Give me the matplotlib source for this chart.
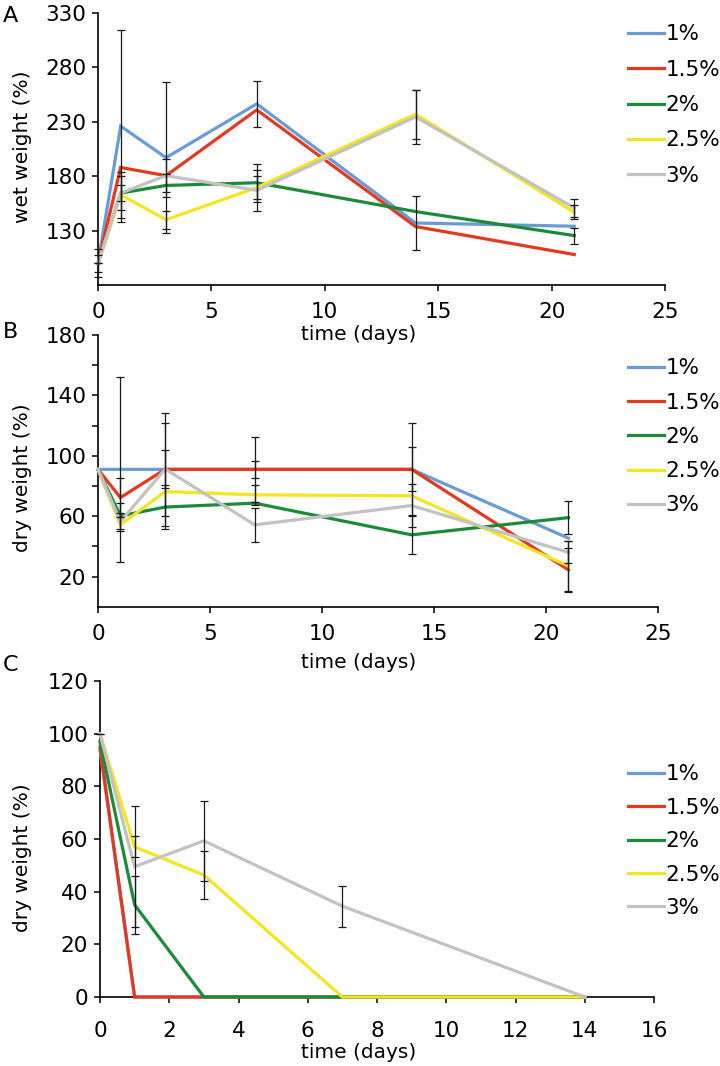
import numpy as np
import matplotlib
matplotlib.use("Agg")
import matplotlib.pyplot as plt
from matplotlib.ticker import FixedLocator

plt.rcParams['font.family'] = ['DejaVu Sans']

series = ["1%", "1.5%", "2%", "2.5%", "3%"]
colors = ["#6A9BD2", "#E2391F", "#1C8B38", "#F3E620", "#C2C2C2"]
nan = np.nan

# Panel A: wet weight (%)
days_a = [0, 1, 3, 7, 14, 21]
wet_1 = [100, 226, 197, 246.5, 137, 134]
wet_15 = [100, 188, 180.5, 241, 133.7, 108]
wet_2 = [100, 164.5, 171.5, 174, 147.5, 125.4]
wet_25 = [100, 163, 140, 169.5, 237, 146.8]
wet_3 = [100, 164.5, 180.5, 167, 234.5, 150.8]
wet_err_1 = [13, 88.5, 69.5, 21, 24.5, nan]
wet_err_15 = [8, nan, 15, nan, nan, nan]
wet_err_2 = [nan, 7, 10.6, 17.6, nan, 7.4]
wet_err_25 = [nan, 21, 8.4, 10.5, 22.6, 6.5]
wet_err_3 = [0, 15.5, nan, 19, 25, 8.7]

# Panel B: dry weight (%)
days_b = [0, 1, 3, 7, 14, 21]
dry_1 = [91, 91, 91, 91, 91, 45.4]
dry_15 = [91, 72.3, 91, 91, 91, 24.4]
dry_2 = [91, 60.2, 66, 68.6, 47.6, 59]
dry_25 = [91, 54.2, 76.3, 74.1, 73.5, 27]
dry_3 = [91, 56.4, 91.2, 54.2, 67, 36]
dry_err_1 = [nan, 61.5, 37.6, 21.4, 30.6, nan]
dry_err_15 = [nan, 13, 30.6, 5.5, 14.5, 14.7]
dry_err_2 = [nan, 8.8, 14.4, nan, 13, 11]
dry_err_25 = [nan, nan, nan, 6.7, nan, 16.6]
dry_err_3 = [nan, 6, 12.3, 11.2, 14.5, 7.2]

# Panel C: dry weight (%)
days_c = [0, 1, 3, 7, 14]
dc_1 = [94, 0, 0, 0, 0]
dc_15 = [95, 0, 0, 0, 0]
dc_2 = [97, 35, 0, 0, 0]
dc_25 = [100, 57, 46.3, 0, 0]
dc_3 = [100, 49.5, 59.3, 34.5, 0]
dc_err_1 = [nan, nan, nan, nan, nan]
dc_err_15 = [nan, nan, nan, nan, nan]
dc_err_2 = [nan, 11, nan, nan, nan]
dc_err_25 = [nan, 4, 9, nan, nan]
dc_err_3 = [0, 23, 15.3, 7.8, nan]

W, H = 720, 1066
fig = plt.figure(figsize=(W / 100, H / 100), dpi=100)


def px_axes(left, right, top, bottom):
    ax = fig.add_axes([left / W, 1 - bottom / H, (right - left) / W, (bottom - top) / H])
    ax.set_facecolor('none')
    return ax


def draw(ax, x, ys, errs):
    handles = []
    for y, e, c, lab in zip(ys, errs, colors, series):
        ln, = ax.plot(x, y, color=c, lw=2.3, label=lab, zorder=3, clip_on=False,
                      solid_joinstyle='miter')
        handles.append(ln)
    for y, e in zip(ys, errs):
        ax.errorbar(x, y, yerr=np.array(e, dtype=float), fmt='none', ecolor='#1a1a1a',
                    elinewidth=0.9, capsize=3.2, capthick=0.9, zorder=4, clip_on=False)
    return handles


def style(ax, xpad):
    for s in ['top', 'right']:
        ax.spines[s].set_visible(False)
    for s in ['left', 'bottom']:
        ax.spines[s].set_linewidth(1.2)
        ax.spines[s].set_color('black')
    ax.tick_params(axis='both', which='both', direction='out', length=4.5, width=1.1,
                   labelsize=15.5, color='black')
    ax.tick_params(axis='y', pad=4)
    ax.tick_params(axis='x', pad=xpad)


def legend(ax, hs, top_px, spacing):
    fig.legend(hs, series, loc='upper left', bbox_to_anchor=(628 / W, 1 - top_px / H),
               bbox_transform=fig.transFigure, frameon=False, fontsize=15.5,
               borderpad=0, borderaxespad=0, handlelength=1.65, handletextpad=0.1,
               labelspacing=spacing)


# ---- Panel A
axA = px_axes(98, 665, 13, 285)
hA = draw(axA, days_a, [wet_1, wet_15, wet_2, wet_25, wet_3],
          [wet_err_1, wet_err_15, wet_err_2, wet_err_25, wet_err_3])
axA.set_xlim(0, 25)
axA.set_ylim(80, 330)
axA.set_xticks([0, 5, 10, 15, 20, 25])
axA.set_yticks([130, 180, 230, 280, 330])
style(axA, 8)
axA.set_xlabel("time (days)", fontsize=14.5)
axA.xaxis.set_label_coords((359 - 98) / 567, (285 - 325) / 272)
axA.set_ylabel("wet weight (%)", fontsize=14.5)
axA.yaxis.set_label_coords((32 - 98) / 567, 0.507)
legend(axA, hA, 24.5, 0.71)
fig.text(3 / W, 1 - 6 / H, "A", fontsize=16, ha='left', va='top')

# ---- Panel B
axB = px_axes(98, 658, 335, 606.7)
hB = draw(axB, days_b, [dry_1, dry_15, dry_2, dry_25, dry_3],
          [dry_err_1, dry_err_15, dry_err_2, dry_err_25, dry_err_3])
axB.set_xlim(0, 25)
axB.set_ylim(0, 180)
axB.set_xticks([0, 5, 10, 15, 20, 25])
axB.set_yticks([20, 60, 100, 140, 180])
axB.yaxis.set_minor_locator(FixedLocator([40, 80, 120, 160]))
style(axB, 8)
axB.set_xlabel("time (days)", fontsize=14.5)
axB.xaxis.set_label_coords((359 - 98) / 560, (606.7 - 653) / 271.7)
axB.set_ylabel("dry weight (%)", fontsize=14.5)
axB.yaxis.set_label_coords((32 - 98) / 560, 0.474)
legend(axB, hB, 358.5, 0.66)
fig.text(3 / W, 1 - 322 / H, "B", fontsize=16, ha='left', va='top')

# ---- Panel C
axC = px_axes(100, 654, 681, 997)
hC = draw(axC, days_c, [dc_1, dc_15, dc_2, dc_25, dc_3],
          [dc_err_1, dc_err_15, dc_err_2, dc_err_25, dc_err_3])
axC.set_xlim(0, 16)
axC.set_ylim(0, 120)
axC.set_xticks(list(range(0, 17, 2)))
axC.set_yticks(list(range(0, 121, 20)))
style(axC, 13)
axC.set_xlabel("time (days)", fontsize=14.5)
axC.xaxis.set_label_coords((359 - 100) / 554, (997 - 1043) / 316)
axC.set_ylabel("dry weight (%)", fontsize=14.5)
axC.yaxis.set_label_coords((32 - 100) / 554, 0.44)
legend(axC, hC, 764.5, 0.62)
fig.text(3 / W, 1 - 655 / H, "C", fontsize=16, ha='left', va='top')

fig.savefig("out.png", dpi=100)
